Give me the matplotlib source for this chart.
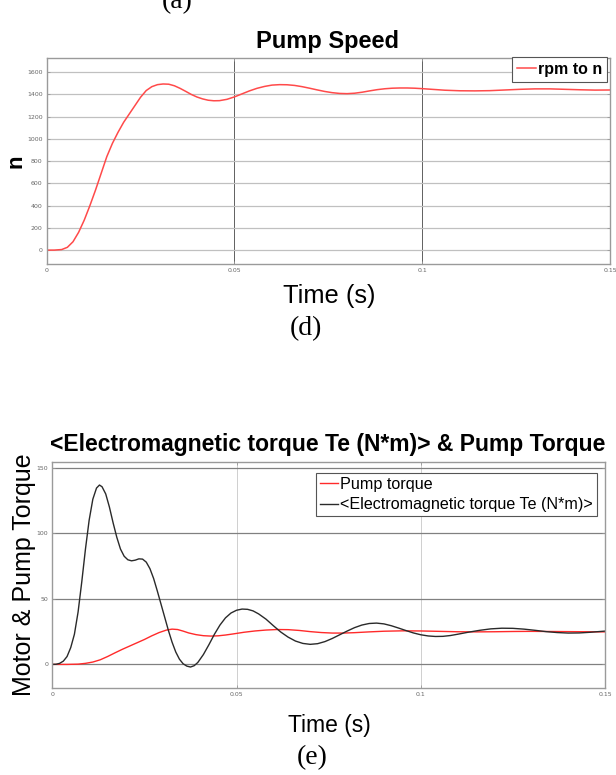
import matplotlib
matplotlib.use("Agg")
import matplotlib.pyplot as plt

# ---- data ----
# (d) pump speed
speed_t = [0.0, 0.002, 0.004, 0.0055, 0.007, 0.0085, 0.010, 0.0115, 0.013, 0.0145,
           0.016, 0.0175, 0.019, 0.0205, 0.022, 0.0235, 0.025, 0.0265, 0.028, 0.0295,
           0.031, 0.0325, 0.034, 0.0355, 0.037, 0.0385, 0.040, 0.0415, 0.043, 0.0445,
           0.046, 0.048, 0.050, 0.052, 0.054, 0.056, 0.058, 0.060, 0.062, 0.064,
           0.066, 0.068, 0.070, 0.072, 0.074, 0.076, 0.078, 0.080, 0.082, 0.084,
           0.086, 0.088, 0.090, 0.092, 0.094, 0.096, 0.098, 0.100, 0.103, 0.106,
           0.110, 0.114, 0.118, 0.122, 0.126, 0.130, 0.134, 0.138, 0.142, 0.146,
           0.150]
speed_n = [0, 0, 5, 25, 75, 160, 270, 400, 540, 690,
           840, 960, 1060, 1150, 1225, 1300, 1375, 1435, 1470, 1488,
           1494, 1492, 1478, 1455, 1428, 1400, 1377, 1360, 1348, 1343,
           1344, 1356, 1378, 1405, 1432, 1455, 1472, 1484, 1488, 1487,
           1481, 1470, 1456, 1441, 1427, 1416, 1409, 1407, 1411, 1420,
           1432, 1443, 1451, 1456, 1458, 1458, 1456, 1452, 1445, 1438,
           1433, 1432, 1434, 1440, 1446, 1450, 1450, 1446, 1442, 1439,
           1440]

# (e) electromagnetic torque
te_t = [0.0, 0.001, 0.002, 0.003, 0.004, 0.005, 0.006, 0.007, 0.008, 0.009,
        0.010, 0.011, 0.012, 0.0128, 0.0135, 0.0145, 0.0155, 0.0165, 0.0175, 0.0185,
        0.0195, 0.0205, 0.0215, 0.0225, 0.0235, 0.0245, 0.0255, 0.0265, 0.0275, 0.0285,
        0.0295, 0.0305, 0.0315, 0.0325, 0.0335, 0.0345, 0.0355, 0.0365, 0.0375, 0.0385,
        0.0395, 0.041, 0.0425, 0.044, 0.0455, 0.047, 0.0485, 0.050, 0.0515, 0.053,
        0.0545, 0.056, 0.058, 0.060, 0.062, 0.064, 0.066, 0.068, 0.070, 0.072,
        0.074, 0.076, 0.078, 0.080, 0.082, 0.084, 0.086, 0.088, 0.090, 0.092,
        0.094, 0.096, 0.098, 0.100, 0.102, 0.104, 0.106, 0.108, 0.110, 0.113,
        0.116, 0.119, 0.122, 0.125, 0.128, 0.131, 0.134, 0.137, 0.140, 0.143,
        0.146, 0.150]
te_val = [0, 0.1, 0.8, 2.5, 6, 12.8, 23, 40, 63, 88,
          110, 126, 134.5, 136.8, 135.5, 130, 120, 108, 97, 88,
          82.5, 79.8, 79, 79.5, 80.5, 80.3, 78, 73, 65.5, 56,
          46, 36, 26, 17, 9.5, 4, 0.5, -1.3, -2, -1,
          1.5, 7.5, 15, 23, 30, 35.5, 39.2, 41.3, 42.2, 42,
          40.8, 38.5, 34.5, 29.5, 24.7, 20.8, 17.8, 16, 15.3, 15.8,
          17.4, 19.8, 22.6, 25.4, 28, 30, 31.2, 31.5, 30.9, 29.5,
          27.7, 25.8, 24, 22.6, 21.7, 21.3, 21.4, 22, 23, 24.6,
          26, 27.1, 27.6, 27.5, 26.9, 26, 25, 24.3, 23.9, 24,
          24.5, 25.4]

# (e) pump torque
tp_t = [0.0, 0.004, 0.007, 0.009, 0.011, 0.013, 0.015, 0.017, 0.019, 0.021,
        0.023, 0.025, 0.027, 0.029, 0.031, 0.0325, 0.034, 0.0355, 0.037, 0.039,
        0.041, 0.043, 0.045, 0.047, 0.049, 0.052, 0.055, 0.058, 0.061, 0.064,
        0.067, 0.070, 0.073, 0.076, 0.079, 0.082, 0.086, 0.090, 0.095, 0.100,
        0.105, 0.110, 0.115, 0.120, 0.125, 0.130, 0.135, 0.140, 0.145, 0.150]
tp_val = [0, 0, 0.2, 0.8, 1.8, 3.5, 6, 8.8, 11.5, 14,
          16.5, 19, 21.8, 24.3, 26.2, 26.9, 26.6, 25.4, 24, 22.7,
          21.9, 21.6, 21.8, 22.4, 23.2, 24.5, 25.5, 26.2, 26.6, 26.5,
          25.9, 25, 24.3, 23.9, 23.9, 24.2, 24.8, 25.3, 25.6, 25.5,
          25.2, 24.9, 24.8, 24.9, 25.1, 25.2, 25.1, 25, 24.9, 24.8]

x_ticks = [0, 0.05, 0.1, 0.15]
x_labels = ["0", "0.05", "0.1", "0.15"]
speed_ticks = [0, 200, 400, 600, 800, 1000, 1200, 1400, 1600]
torque_ticks = [0, 50, 100, 150]

W, H = 616, 775
SANS = "Liberation Sans"
SERIF = "Liberation Serif"


def fx(px):
    return px / W


def fy(py):
    return 1 - py / H


def style_axes(ax, hgrid, vgrid):
    '''MATLAB scope look: thin grey frame, tiny grey tick labels'''
    for s in ax.spines.values():
        s.set_color("#9a9a9a")
        s.set_linewidth(1.0)
    ax.tick_params(direction="in", length=2.5, width=0.6, colors="#9a9a9a",
                   labelsize=4.5, labelcolor="#666666", top=True, right=True,
                   pad=3)
    ax.set_axisbelow(True)
    ax.yaxis.grid(True, color=hgrid, linewidth=0.9)
    ax.xaxis.grid(True, color=vgrid, linewidth=0.7)
    ax.set_xlim(0, 0.15)
    ax.set_xticks(x_ticks)
    ax.set_xticklabels(x_labels)


fig = plt.figure(figsize=(6.16, 7.75), dpi=100)

# ---------- (d) pump speed ----------
ax1 = fig.add_axes([fx(46.7), fy(264), fx(610 - 46.7), (264 - 58.3) / H])
ax1.plot(speed_t, speed_n, color="#ff4a4a", linewidth=1.1, label="rpm to n")
style_axes(ax1, "#c0c0c0", "#606060")
ax1.set_ylim(-125, 1725)
ax1.set_yticks(speed_ticks)
leg1 = ax1.legend(loc="upper right", bbox_to_anchor=(0.9947, 1.0063),
                  borderaxespad=0, handlelength=1.2, handletextpad=0.1,
                  borderpad=0.3, fancybox=False, framealpha=1,
                  prop={"family": SANS, "weight": "bold", "size": 11.5})
leg1.get_frame().set_edgecolor("#555555")
leg1.get_frame().set_linewidth(0.8)

fig.text(fx(328), fy(48), "Pump Speed", ha="center", va="baseline",
         family=SANS, weight="bold", fontsize=17)
fig.text(fx(21.7), fy(161), "n", ha="center", va="baseline", rotation=90,
         rotation_mode="anchor", family=SANS, weight="bold", fontsize=16)
fig.text(fx(329), fy(303), "Time (s)", ha="center", va="baseline",
         family=SANS, fontsize=18.4)
fig.text(fx(306), fy(329), "(d)", ha="center", va="center",
         family=SERIF, fontsize=20)
# caption of the panel above, cut by the page edge as in the source
fig.text(fx(177), fy(2), "(a)", ha="center", va="center",
         family=SERIF, fontsize=20)

# ---------- (e) torques ----------
ax2 = fig.add_axes([fx(52.3), fy(688), fx(605 - 52.3), (688 - 461.7) / H])
ax2.plot(tp_t, tp_val, color="#ff2a2a", linewidth=1.0, label="Pump torque")
ax2.plot(te_t, te_val, color="#2a2a2a", linewidth=1.0,
         label="<Electromagnetic torque Te (N*m)>")
style_axes(ax2, "#808080", "#cfcfcf")
ax2.set_ylim(-18, 154.6)
ax2.set_yticks(torque_ticks)
leg2 = ax2.legend(loc="upper right", bbox_to_anchor=(0.9856, 0.9514),
                  borderaxespad=0, handlelength=1.15, handletextpad=0.12,
                  borderpad=0.25, labelspacing=0.35, fancybox=False, framealpha=1,
                  prop={"family": SANS, "size": 11.6})
leg2.get_frame().set_edgecolor("#555555")
leg2.get_frame().set_linewidth(0.8)

fig.text(fx(328), fy(451), "<Electromagnetic torque Te (N*m)> & Pump Torque",
         ha="center", va="baseline", family=SANS, weight="bold", fontsize=16.5)
fig.text(fx(31.5), fy(575), "Motor & Pump Torque", ha="center", va="baseline",
         rotation=90, rotation_mode="anchor", family=SANS, fontsize=18)
fig.text(fx(329), fy(731.7), "Time (s)", ha="center", va="baseline",
         family=SANS, fontsize=16.5)
fig.text(fx(312), fy(757.5), "(e)", ha="center", va="center",
         family=SERIF, fontsize=20)

fig.savefig("out.png", dpi=100)
plt.close(fig)
print("Success: out.png")
